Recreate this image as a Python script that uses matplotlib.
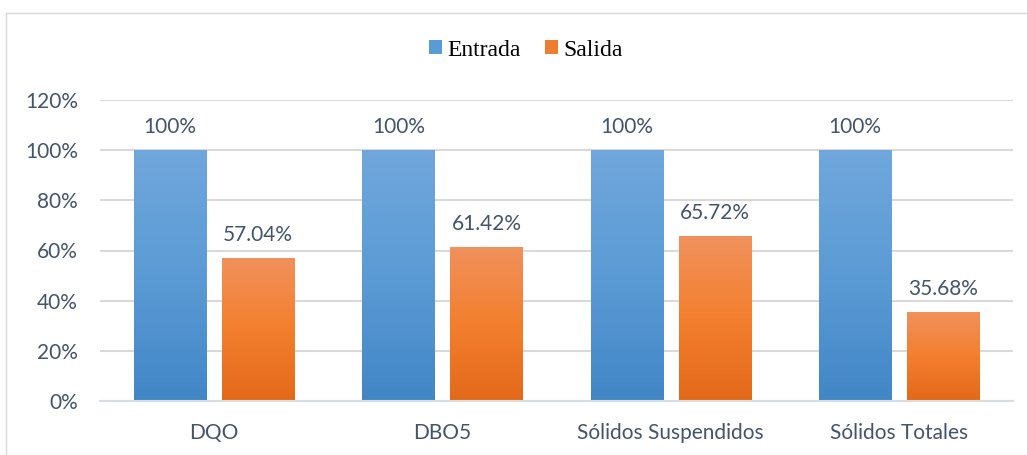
import matplotlib
matplotlib.use("Agg")
import matplotlib.pyplot as plt
import numpy as np
from matplotlib.colors import LinearSegmentedColormap
from matplotlib.lines import Line2D
from matplotlib.patches import Patch

categories = ["DQO", "DBO5", "Sólidos Suspendidos", "Sólidos Totales"]
entrada = [100, 100, 100, 100]
salida = [57.04, 61.42, 65.72, 35.68]
entrada_labels = ["100%", "100%", "100%", "100%"]
salida_labels = ["57.04%", "61.42%", "65.72%", "35.68%"]
yticks = [0, 20, 40, 60, 80, 100, 120]
ytick_labels = ["0%", "20%", "40%", "60%", "80%", "100%", "120%"]

TXT = "#44546A"
FONT = "Lato"
FS = 15

fig = plt.figure(figsize=(10.27, 4.55), dpi=100)
W, H = 1027, 455
ax = fig.add_axes([100 / W, (H - 401) / H, (1013 - 100) / W, (401 - 100) / H])

x = np.arange(len(categories))
bw = 0.3155
off = 0.193
b1 = ax.bar(x - off, entrada, bw, color="#5B9BD5", zorder=2)
b2 = ax.bar(x + off, salida, bw, color="#ED7D31", zorder=2)

cmap_blue = LinearSegmentedColormap.from_list("b", ["#4286C7", "#5B9BD5", "#70A7DC"])
cmap_or = LinearSegmentedColormap.from_list("o", ["#E3691A", "#F37F2E", "#F0915C"])
grad = np.linspace(0, 1, 256).reshape(-1, 1)
for bars, cm in ((b1, cmap_blue), (b2, cmap_or)):
    for r in bars:
        bx, by, w, h = r.get_x(), r.get_y(), r.get_width(), r.get_height()
        im = ax.imshow(grad, cmap=cm, origin="lower", aspect="auto",
                       extent=[bx, bx + w, by, by + h], zorder=2.5,
                       interpolation="bilinear")
        im.set_clip_path(r)
        r.set_facecolor("none")

for bars, labs in ((b1, entrada_labels), (b2, salida_labels)):
    for r, lab in zip(bars, labs):
        ax.annotate(lab, (r.get_x() + r.get_width() / 2, r.get_height()),
                    xytext=(0, 13), textcoords="offset pixels",
                    ha="center", va="bottom", color=TXT, fontsize=FS, family=FONT)

ax.set_xlim(-0.5, len(categories) - 0.5)
ax.set_ylim(0, 120)
ax.set_yticks(yticks)
ax.set_yticklabels(ytick_labels)
ax.set_xticks(x)
ax.set_xticklabels(categories)
ax.tick_params(axis="both", length=0, colors=TXT, labelsize=FS)
ax.tick_params(axis="y", pad=16)
ax.tick_params(axis="x", pad=15.5)
for lab in ax.get_xticklabels() + ax.get_yticklabels():
    lab.set_family(FONT)
ax.grid(axis="y", color="#D9D9D9", linewidth=1.5, zorder=0)
ax.set_axisbelow(True)
for s in ["top", "right", "left"]:
    ax.spines[s].set_visible(False)
ax.spines["bottom"].set_color("#D9DEE6")
ax.spines["bottom"].set_linewidth(1.5)

handles = [Patch(facecolor="#5B9BD5"), Patch(facecolor="#ED7D31")]
fig.legend(handles, ["Entrada", "Salida"], loc="center", bbox_to_anchor=(526 / W, 1 - 50 / H),
           ncol=2, frameon=False, prop={"family": "Liberation Serif", "size": 17},
           handlelength=0.55, handleheight=0.55, handletextpad=0.25, columnspacing=1.0)

fig.add_artist(Line2D([6 / W, 6 / W], [0, 1 - 13 / H], transform=fig.transFigure, color="#D9D9D9", lw=1))
fig.add_artist(Line2D([6 / W, 1], [1 - 13 / H, 1 - 13 / H], transform=fig.transFigure, color="#D9D9D9", lw=1))

fig.savefig("out.png", dpi=100)
